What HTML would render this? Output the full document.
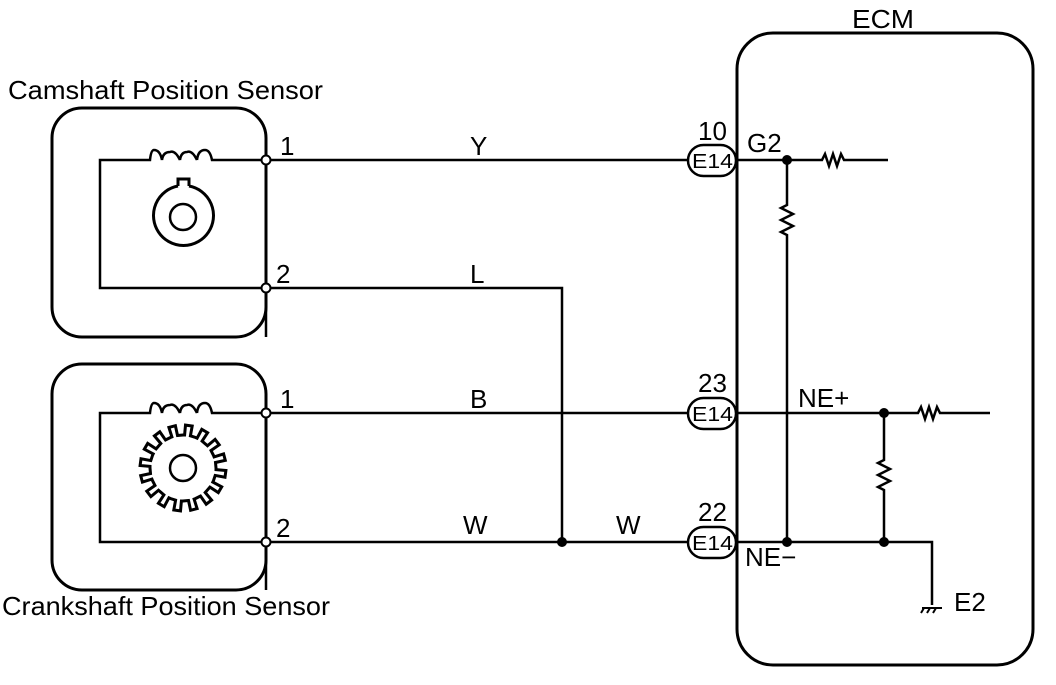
<!DOCTYPE html>
<html><head><style>
body{margin:0;background:#fff;width:1056px;height:680px;overflow:hidden}
svg text{font-family:"Liberation Sans",sans-serif;fill:#000}
</style></head><body>
<svg width="1056" height="680" viewBox="0 0 1056 680" xmlns="http://www.w3.org/2000/svg">
<g fill="none" stroke="#000" stroke-width="3">
<rect x="737" y="33" width="296" height="632" rx="36"/>
<rect x="52" y="108" width="214" height="229" rx="30"/>
<rect x="52" y="364" width="214" height="226" rx="30"/>
</g>
<g fill="none" stroke="#000" stroke-width="2.5">
<path d="M266 160 H212 Q210 150 205 150 Q198 150 197 160 M197 160 Q192 150 187 152 Q181 152 180 160 M180 160 Q175 150 170 152 Q163 152 162 160 M162 160 Q160 150 154 150 Q151 150 150 160 H100 V288 H266"/>
<path d="M266 160 V337" />
<path d="M266 413 H212 Q210 403 205 403 Q198 403 197 413 M197 413 Q192 403 187 405 Q181 405 180 413 M180 413 Q175 403 170 405 Q163 405 162 413 M162 413 Q160 403 154 403 Q151 403 150 413 H100 V542 H266"/>
<path d="M266 413 V590"/>
<path d="M178 186 V179 H189 V186" stroke-width="3"/>
<path d="M189 186 A30 30 0 1 1 178 186" stroke-width="3"/>
<circle cx="183" cy="217" r="13"/>
<circle cx="183" cy="468" r="13"/>
<path id="gear" stroke-width="3" d=""/>
<path d="M270 160 H690 M270 288 H562 V542 M270 413 H690 M270 542 H690"/>
<path d="M737 160 H822 l3 -6 l4 12 l4 -12 l4 12 l4 -12 l3 6 H888"/>
<path d="M787 160 V205 l-6 3 l12 6 l-12 6 l12 6 l-12 6 l6 3 V542"/>
<path d="M737 413 H918 l3 -6 l4 12 l4 -12 l4 12 l4 -12 l3 6 H990"/>
<path d="M884 413 V460 l-6 3 l12 6 l-12 6 l12 6 l-12 6 l6 3 V542"/>
<path d="M737 542 H932 V605"/>
<path d="M922 608 H942 M924 608 l-3 5 M930 608 l-3 5 M936 608 l-3 5" stroke-width="2"/>
</g>
<g fill="#fff" stroke="#000" stroke-width="2">
<circle cx="266" cy="160" r="4.5"/><circle cx="266" cy="288" r="4.5"/>
<circle cx="266" cy="413" r="4.5"/><circle cx="266" cy="542" r="4.5"/>
<rect x="688" y="145" width="48" height="31" rx="15.5" stroke-width="2.5"/>
<rect x="688" y="398" width="48" height="31" rx="15.5" stroke-width="2.5"/>
<rect x="688" y="527" width="48" height="31" rx="15.5" stroke-width="2.5"/>
</g>
<g fill="#000">
<circle cx="562" cy="542" r="5"/><circle cx="787" cy="160" r="5"/>
<circle cx="884" cy="413" r="5"/><circle cx="787" cy="542" r="5"/><circle cx="884" cy="542" r="5"/>
</g>
<g font-size="26">
<text x="852" y="28" textLength="62" lengthAdjust="spacingAndGlyphs">ECM</text>
<text x="8" y="99" textLength="315" lengthAdjust="spacingAndGlyphs">Camshaft Position Sensor</text>
<text x="2" y="615" textLength="328" lengthAdjust="spacingAndGlyphs">Crankshaft Position Sensor</text>
<text x="280" y="155">1</text><text x="276" y="283">2</text>
<text x="280" y="408">1</text><text x="276" y="537">2</text>
<text x="470" y="155">Y</text><text x="470" y="283">L</text>
<text x="470" y="408">B</text><text x="463" y="534">W</text><text x="616" y="534">W</text>
<text x="698" y="140">10</text><text x="698" y="392">23</text><text x="698" y="521">22</text>
<text x="747" y="152">G2</text><text x="798" y="407">NE+</text><text x="745" y="566">NE−</text>
<text x="954" y="611">E2</text>
</g>
<g font-size="20"><text x="692" y="168" textLength="41" lengthAdjust="spacingAndGlyphs">E14</text><text x="692" y="421" textLength="41" lengthAdjust="spacingAndGlyphs">E14</text><text x="692" y="550" textLength="41" lengthAdjust="spacingAndGlyphs">E14</text></g>
</svg>
<script>
(function(){var cx=183,cy=468,n=16,ro=43,ri=33,d="";
for(var i=0;i<n;i++){var a0=i*2*Math.PI/n,w=Math.PI/n;
var pts=[[ri,a0],[ri,a0+w*0.25],[ro,a0+w*0.3],[ro,a0+w*1.1],[ri,a0+w*1.15],[ri,a0+w*2]];
pts.forEach(function(p,j){var x=cx+p[0]*Math.cos(p[1]),y=cy+p[0]*Math.sin(p[1]);d+=(i==0&&j==0?"M":"L")+x.toFixed(1)+" "+y.toFixed(1)+" ";});}
document.getElementById("gear").setAttribute("d",d+"Z");})();
</script>
</body></html>
